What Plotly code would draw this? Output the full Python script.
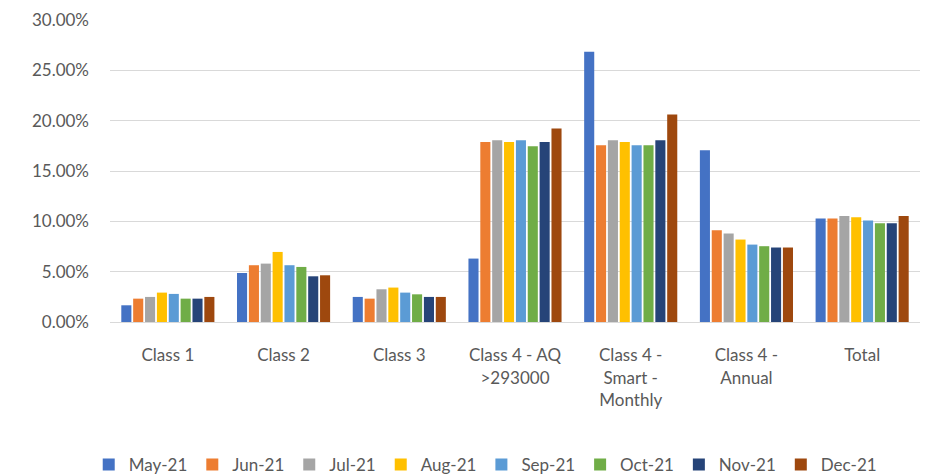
import plotly.graph_objects as go

categories = ["Class 1", "Class 2", "Class 3", "Class 4 - AQ<br>>293000",
              "Class 4 -<br>Smart -<br>Monthly", "Class 4 -<br>Annual", "Total"]
months = ["May-21", "Jun-21", "Jul-21", "Aug-21", "Sep-21", "Oct-21", "Nov-21", "Dec-21"]

may_21 = [0.0166, 0.0487, 0.0249, 0.0630, 0.2684, 0.1707, 0.1028]
jun_21 = [0.0232, 0.0564, 0.0232, 0.1789, 0.1756, 0.0912, 0.1028]
jul_21 = [0.0249, 0.0580, 0.0325, 0.1806, 0.1806, 0.0879, 0.1054]
aug_21 = [0.0292, 0.0696, 0.0342, 0.1789, 0.1789, 0.0819, 0.1041]
sep_21 = [0.0279, 0.0564, 0.0292, 0.1806, 0.1756, 0.0769, 0.1008]
oct_21 = [0.0232, 0.0547, 0.0275, 0.1747, 0.1756, 0.0753, 0.0981]
nov_21 = [0.0232, 0.0454, 0.0249, 0.1789, 0.1806, 0.0740, 0.0981]
dec_21 = [0.0249, 0.0464, 0.0249, 0.1922, 0.2061, 0.0740, 0.1054]

series = [may_21, jun_21, jul_21, aug_21, sep_21, oct_21, nov_21, dec_21]
colors = ["#4472C4", "#ED7D31", "#A5A5A5", "#FFC000",
          "#5B9BD5", "#70AD47", "#264478", "#9E480E"]

y_ticks = [0, 0.05, 0.10, 0.15, 0.20, 0.25, 0.30]

font_family = "Lato, Open Sans, sans-serif"

fig = go.Figure()
for name, vals, col in zip(months, series, colors):
    fig.add_trace(go.Bar(x=categories, y=vals, name=name, marker_color=col,
                         marker_line_width=0))

fig.update_layout(
    width=926, height=476,
    margin=dict(l=110, r=6, t=20, b=154, autoexpand=False),
    paper_bgcolor="white", plot_bgcolor="white",
    barmode="group", bargap=0.18, bargroupgap=0.15,
    font=dict(family=font_family, size=17, color="#595959"),
    legend=dict(orientation="h", x=0.524, xref="container", xanchor="center",
                y=0.023, yref="container", yanchor="middle",
                font=dict(size=17, color="#595959"), itemwidth=30,
                traceorder="normal"),
    showlegend=True,
)
fig.update_xaxes(showgrid=False, showline=True, linecolor="#d9d9d9", linewidth=1,
                 ticks="", tickfont=dict(size=17, color="#595959"),
                 ticklabelstandoff=18, automargin=False)
fig.update_yaxes(range=[0, 0.30], tickvals=y_ticks, tickformat=".2%",
                 showgrid=True, gridcolor="#d9d9d9", gridwidth=1,
                 zeroline=False, showline=False, automargin=False,
                 tickfont=dict(size=17, color="#595959"), ticklabelstandoff=20)

fig.write_html("out.html")
